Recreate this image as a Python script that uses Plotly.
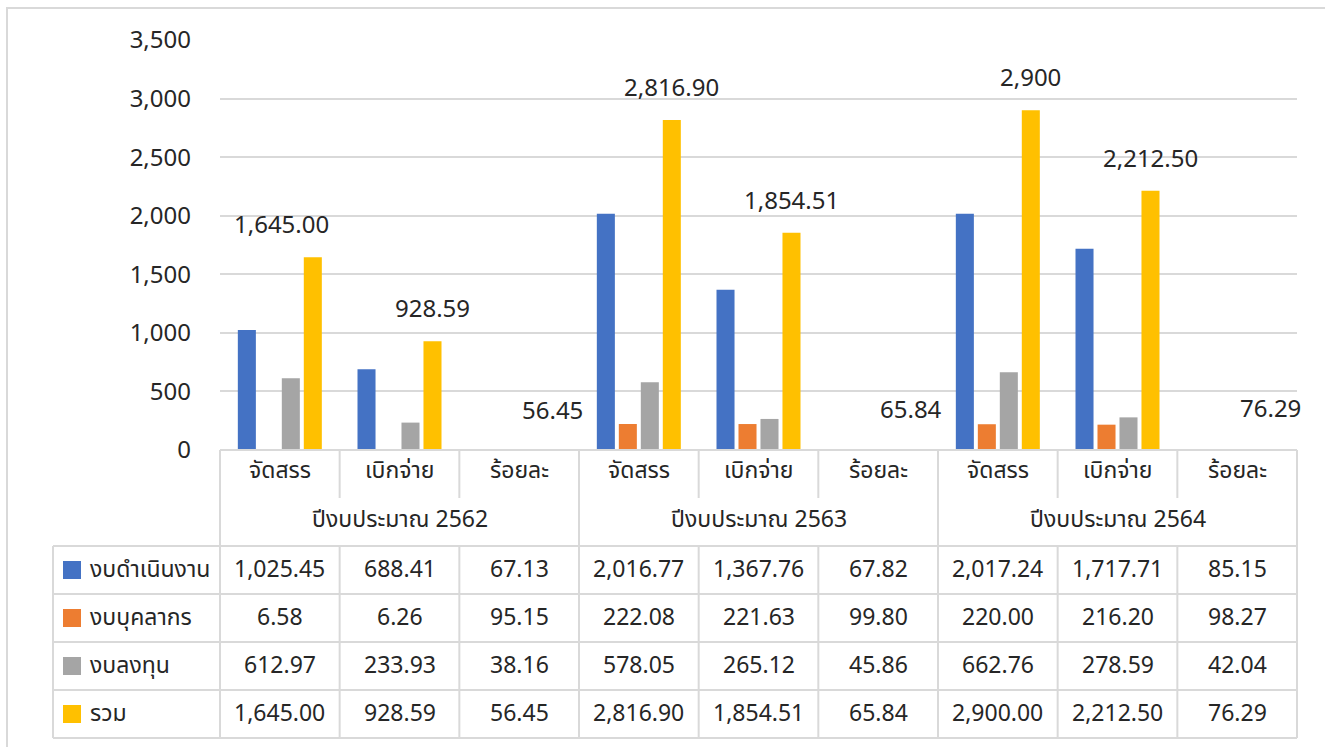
import plotly.graph_objects as go

# ---- data -------------------------------------------------------------
categories = ["จัดสรร", "เบิกจ่าย", "ร้อยละ"] * 3
years = ["ปีงบประมาณ 2562", "ปีงบประมาณ 2563", "ปีงบประมาณ 2564"]
series_names = ["งบดำเนินงาน", "งบบุคลากร", "งบลงทุน", "รวม"]

operating = [1025.45, 688.41, 67.13, 2016.77, 1367.76, 67.82, 2017.24, 1717.71, 85.15]
personnel = [6.58, 6.26, 95.15, 222.08, 221.63, 99.80, 220.00, 216.20, 98.27]
investment = [612.97, 233.93, 38.16, 578.05, 265.12, 45.86, 662.76, 278.59, 42.04]
total = [1645.00, 928.59, 56.45, 2816.90, 1854.51, 65.84, 2900.00, 2212.50, 76.29]

total_labels = ["1,645.00", "928.59", "56.45", "2,816.90", "1,854.51",
                "65.84", "2,900", "2,212.50", "76.29"]
y_ticks = [0, 500, 1000, 1500, 2000, 2500, 3000, 3500]
y_tick_text = ["0", "500", "1,000", "1,500", "2,000", "2,500", "3,000", "3,500"]

# ---- style ------------------------------------------------------------
colors = ["#4472C4", "#ED7D31", "#A5A5A5", "#FFC000"]
FONT = "Noto Sans Thai, Noto Sans, Leelawadee UI, sans-serif"
TEXT = "#262626"
GRID = "#D9D9D9"

W, H = 1325, 747
L, R, T, B = 220, 1297, 40, 450  # plot-area edges in pixels


def px_x(x):
    return (x - L) / (R - L)


def px_y(y):
    return (B - y) / (B - T)


series = [operating, personnel, investment, total]
xs = list(range(len(categories)))

fig = go.Figure()
for name, vals, col in zip(series_names, series, colors):
    # the percentage columns are listed in the table but not drawn as bars
    bar_colors = [col if c != "ร้อยละ" else "rgba(0,0,0,0)" for c in categories]
    fig.add_trace(go.Bar(x=xs, y=vals, name=name, marker=dict(color=bar_colors, line_width=0),
                         hoverinfo="skip"))

# value labels above the total bars
label_xshift = [2, 33, 33, 33, 33, 33, 33, 33, 33]
for i, (v, t) in enumerate(zip(total, total_labels)):
    fig.add_annotation(x=xs[i], y=v, xref="x", yref="y", text=t, showarrow=False,
                       xshift=label_xshift[i], yshift=31, xanchor="center", yanchor="middle",
                       font=dict(size=24, color=TEXT, family=FONT))

shapes = []


def hline(x0, x1, y):
    shapes.append(dict(type="line", xref="paper", yref="paper",
                       x0=px_x(x0), x1=px_x(x1), y0=px_y(y), y1=px_y(y),
                       line=dict(color=GRID, width=2)))


def vline(x, y0, y1):
    shapes.append(dict(type="line", xref="paper", yref="paper",
                       x0=px_x(x), x1=px_x(x), y0=px_y(y0), y1=px_y(y1),
                       line=dict(color=GRID, width=2)))


def cell_text(x, y, text, anchor="center"):
    fig.add_annotation(x=px_x(x), y=px_y(y), xref="paper", yref="paper",
                       text=text, showarrow=False, xanchor=anchor, yanchor="middle",
                       font=dict(size=23, color=TEXT, family=FONT))


# outer chart frame
shapes.append(dict(type="rect", xref="paper", yref="paper",
                   x0=px_x(7), x1=px_x(1345), y0=px_y(8), y1=px_y(770),
                   line=dict(color=GRID, width=2)))

# ---- data table under the axis ---------------------------------------
cell_w = (R - L) / len(categories)
bounds = [L + k * cell_w for k in range(len(categories) + 1)]
row_lines = [546, 594, 642, 690, 738]
row_centers = [570, 618, 666, 714]
TABLE_LEFT = 53

hline(L, R, B)
for y in row_lines:
    hline(TABLE_LEFT, R, y)
vline(TABLE_LEFT, row_lines[0], row_lines[-1])
for k, x in enumerate(bounds):
    if k % 3 == 0:
        vline(x, B, row_lines[-1])
    else:
        vline(x, B, 498)
        vline(x, row_lines[0], row_lines[-1])

# category and year headers
for i, c in enumerate(categories):
    cell_text((bounds[i] + bounds[i + 1]) / 2, 471, c)
for j, yr in enumerate(years):
    cell_text((bounds[3 * j] + bounds[3 * j + 3]) / 2, 520, yr)

# series rows: legend key, name and values
for r, (name, vals, col) in enumerate(zip(series_names, series, colors)):
    yc = row_centers[r]
    shapes.append(dict(type="rect", xref="paper", yref="paper",
                       x0=px_x(63), x1=px_x(81), y0=px_y(yc - 9), y1=px_y(yc + 9),
                       fillcolor=col, line_width=0))
    cell_text(88, yc, name, anchor="left")
    for i, v in enumerate(vals):
        cell_text((bounds[i] + bounds[i + 1]) / 2, yc, f"{v:,.2f}")

fig.update_layout(
    width=W, height=H,
    margin=dict(l=L, r=W - R, t=T, b=H - B, pad=0),
    paper_bgcolor="white", plot_bgcolor="white",
    barmode="group", bargap=0.265, bargroupgap=0.18,
    showlegend=False,
    shapes=shapes,
    font=dict(family=FONT, color=TEXT),
    xaxis=dict(range=[-0.5, len(categories) - 0.5], showticklabels=False,
               showgrid=False, zeroline=False, showline=False, ticks=""),
    yaxis=dict(range=[0, 3500], tickvals=y_ticks, ticktext=y_tick_text,
               showgrid=True, gridcolor=GRID, gridwidth=1.5, zeroline=False,
               showline=False, ticks="", ticklabelstandoff=28,
               tickfont=dict(size=24, color=TEXT, family=FONT)),
)

fig.write_html("out.html")
